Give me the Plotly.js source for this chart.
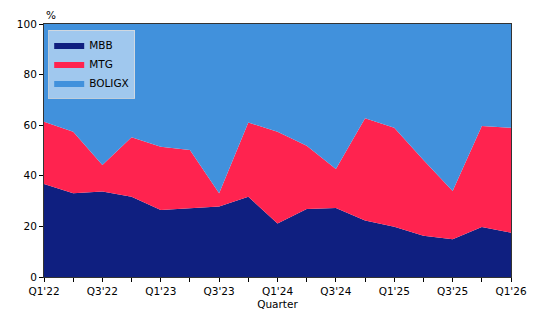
<!DOCTYPE html>
<html>
<head>
<meta charset="utf-8">
<script src="https://cdn.plot.ly/plotly-3.0.1.min.js"></script>
<style>html,body{margin:0;padding:0;background:#fff;}#chart{width:542px;height:315px;}</style>
</head>
<body>
<div id="chart"></div>
<script>
const quarters = ["Q1'22","Q2'22","Q3'22","Q4'22","Q1'23","Q2'23","Q3'23","Q4'23","Q1'24","Q2'24","Q3'24","Q4'24","Q1'25","Q2'25","Q3'25","Q4'25","Q1'26"];
const mbb = [36.8,33.1,33.8,31.7,26.5,27.2,27.9,31.7,21.1,26.9,27.3,22.3,19.9,16.3,14.9,19.8,17.5];
const mtg = [24.6,24.3,10.5,23.5,25.0,23.0,5.2,29.4,36.3,25.0,15.4,40.4,39.1,29.9,19.1,39.9,41.5];
const boligx = [38.6,42.6,55.7,44.8,48.5,49.8,66.9,38.9,42.6,48.1,57.3,37.3,41.0,53.8,66.0,40.3,41.0];
const tickLabels = quarters.map((q, i) => i % 2 === 0 ? q : "");

const font = {family: "DejaVu Sans", size: 10.5, color: "#000"};
const traces = [
  {name: "MBB", x: quarters, y: mbb, color: "#0f1f80"},
  {name: "MTG", x: quarters, y: mtg, color: "#ff234f"},
  {name: "BOLIGX", x: quarters, y: boligx, color: "#4191dc"}
].map(s => ({
  type: "scatter", mode: "lines", name: s.name, x: s.x, y: s.y,
  stackgroup: "one", line: {width: 0, color: s.color}, fillcolor: s.color,
  hoverinfo: "skip"
}));

const layout = {
  width: 542, height: 315,
  margin: {l: 44, r: 31, t: 24, b: 38},
  paper_bgcolor: "#fff", plot_bgcolor: "#fff",
  font: font,
  showlegend: true,
  legend: {x: 0.009, y: 0.978, xanchor: "left", yanchor: "top", traceorder: "normal",
    bgcolor: "rgba(255,255,255,0.5)", bordercolor: "rgba(220,220,220,0.8)", borderwidth: 1,
    font: font, itemwidth: 30, tracegroupgap: 0},
  xaxis: {type: "category", range: [0, 16], tickmode: "array", tickvals: quarters, ticktext: tickLabels,
    ticks: "outside", ticklen: 4, tickcolor: "#000", showline: true, linecolor: "#333", linewidth: 1,
    mirror: true, showgrid: false, zeroline: false, tickfont: font,
    title: {text: "Quarter", font: font, standoff: 5}},
  yaxis: {range: [0, 100], tickvals: [0,20,40,60,80,100], ticks: "outside", ticklen: 4, tickcolor: "#000",
    showline: true, linecolor: "#333", linewidth: 1, mirror: true, showgrid: false, zeroline: false,
    tickfont: font},
  annotations: [{text: "%", xref: "paper", yref: "paper", x: 0, y: 1, xanchor: "left", yanchor: "bottom",
    yshift: 1, showarrow: false, font: font}]
};
Plotly.newPlot("chart", traces, layout, {displayModeBar: false, staticPlot: true});
</script>
</body>
</html>
